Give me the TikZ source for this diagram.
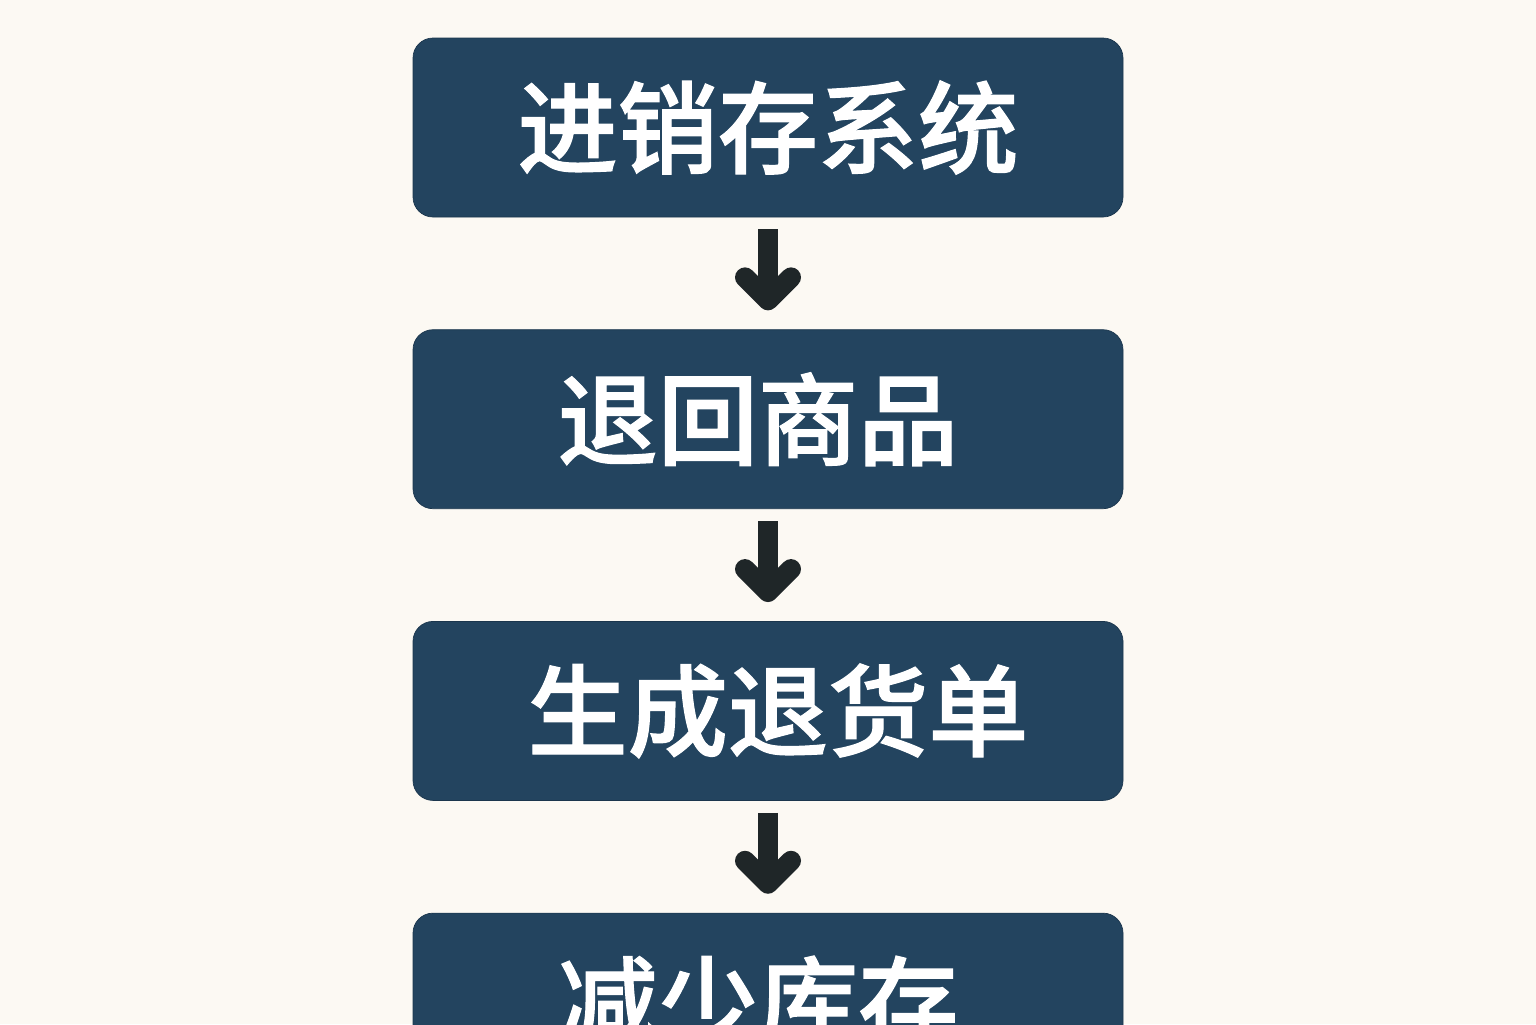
\documentclass[tikz,border=0pt]{standalone}
\usepackage{fontspec}
\newfontfamily\cjk[FakeBold=1.2]{Noto Sans CJK SC Medium}
\usepackage{xcolor}
\usepackage{tikz}
\usetikzlibrary{arrows.meta, positioning}

\definecolor{boxblue}{HTML}{23445F}
\definecolor{boxline}{HTML}{1B364D}
\definecolor{paper}{HTML}{FCF9F3}
\definecolor{arrowdark}{HTML}{1F2628}

\begin{document}
\begin{tikzpicture}[
node distance=2.24cm,
elem/.style={
    rectangle,minimum width=14.2cm,minimum height=3.58cm,rounded corners=4mm,thin,draw=boxline,fill=boxblue,
    text=white,font=\cjk\fontsize{57}{60}\selectfont
},
flow/.style={
    line width=4mm,draw=arrowdark,shorten <=2.4mm,shorten >=3.8mm,
    -{Straight Barb[length=4.6mm,width=9.2mm,round]}
}
]
    \useasboundingbox (0,0) rectangle (30.72,-20.48);
    \fill[paper] (0,0) rectangle (30.72,-20.48);
    \clip (0,0) rectangle (30.72,-20.48);

    \node(N1)[elem] at (15.36,-2.55){进销存系统};
    \node(N2)[elem,below=of N1]{\hspace*{-4mm}退回商品};
    \node(N3)[elem,below=of N2]{\hspace*{4mm}生成退货单};
    \node(N4)[elem,below=of N3]{\hspace*{-4mm}减少库存};
    \draw[flow] (N1.south) to (N2.north);
    \draw[flow] (N2.south) to (N3.north);
    \draw[flow] (N3.south) to (N4.north);
\end{tikzpicture}
\end{document}
